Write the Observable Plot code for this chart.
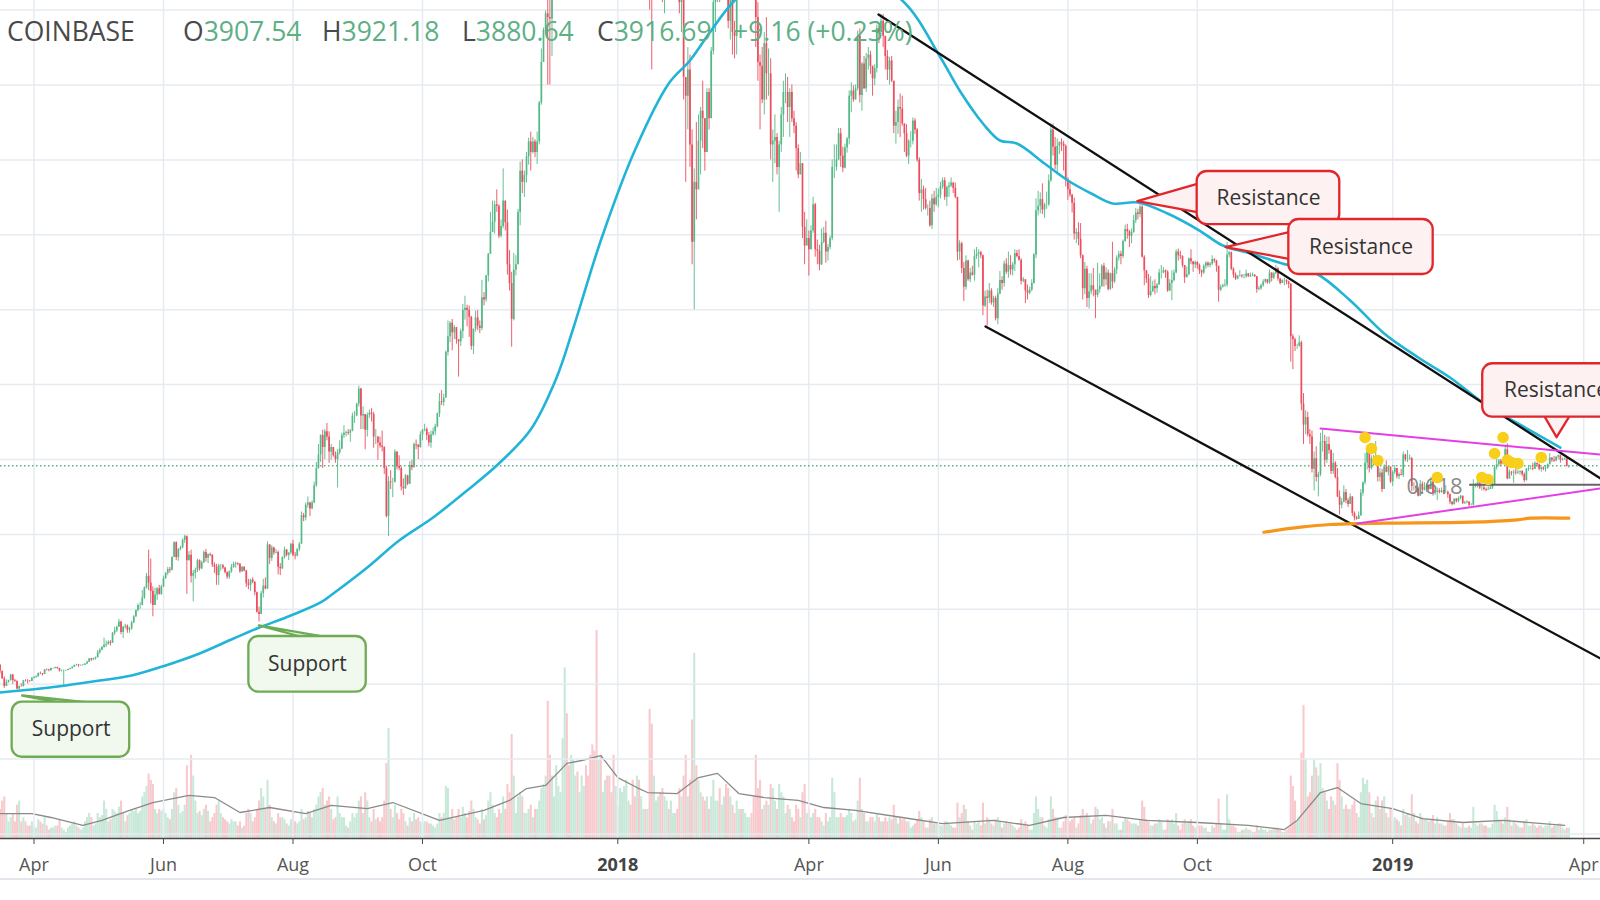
<!DOCTYPE html>
<html><head><meta charset="utf-8">
<script src="https://cdn.jsdelivr.net/npm/d3@7"></script>
<script src="https://cdn.jsdelivr.net/npm/@observablehq/plot@0.6"></script>
<style>
html,body{margin:0;padding:0;background:#fff;}
#wrap{position:relative;width:1600px;height:900px;overflow:hidden;font-family:"Open Sans",sans-serif;background:#fff;}
#wrap svg{position:absolute;left:0;top:0;}
#hdr{position:absolute;left:0;top:0;width:1600px;height:60px;font-size:26.5px;font-family:"Open Sans",sans-serif;}
#hdr span{position:absolute;top:13px;white-space:pre;line-height:36px;}
.lab{color:#4a4a4a}.val{color:#5daf85}
#foot{position:absolute;left:0;top:878px;width:1600px;height:2px;background:#e3e6ec}
</style></head><body><div id="wrap"></div>
<script>
// ---------- daily candles: [close, high, low, volume] (open = previous close) ----------
const firstOpen = 1253;
const p1703 = [[1172,1262,1140,14],[1071,1173,1066,18],[970,1098,945,20],[1022,1057,970,12],[1047,1053,1014,8],[1123,1130,1045,10],[1048,1130,1000,12],[1039,1065,1025,8],[937,1042,925,16],[968,975,890,18],[967,1005,960,8],[1045,1048,965,10],[1044,1060,1030,8],[1041,1060,1003,6],[1037,1049,1025,6],[1079,1087,1036,8]];
const p1704 = [[1089,1102,1072,6],[1098,1110,1080,5],[1143,1150,1096,9],[1141,1163,1125,8],[1130,1143,1110,7],[1192,1196,1128,10],[1190,1204,1176,6],[1180,1200,1165,4],[1208,1215,1175,5],[1211,1215,1199,5],
[1223,1227,1205,6],[1208,1226,1200,6],[1177,1211,1163,9],[1180,1189,1164,5],[1181,1190,960,4],[1183,1188,1171,3],[1196,1200,1178,5],[1208,1211,1190,6],[1226,1232,1200,7],[1250,1256,1224,8],
[1256,1267,1240,6],[1249,1264,1225,5],[1249,1258,1238,4],[1253,1262,1240,5],[1269,1275,1250,8],[1292,1308,1265,10],[1339,1341,1289,12],[1323,1345,1305,10],[1340,1348,1317,6],[1357,1361,1322,7]];
const p1705 = [[1421,1450,1348,12],[1452,1475,1400,10],[1490,1505,1445,11],[1520,1615,1480,18],[1531,1575,1490,14],[1560,1580,1520,8],[1547,1580,1510,9],[1680,1690,1545,14],[1710,1760,1650,13],[1760,1775,1690,12],
[1830,1865,1760,15],[1690,1840,1660,18],[1760,1770,1610,12],[1775,1800,1735,8],[1720,1790,1680,11],[1740,1760,1680,12],[1820,1840,1720,14],[1900,1915,1810,13],[1985,1990,1890,14],[2050,2070,1965,12],
[2050,2090,2000,13],[2150,2250,2050,20],[2285,2300,2130,22],[2440,2480,2270,25],[2350,2790,2250,31],[2240,2670,2070,28],[2050,2300,1900,26],[2190,2280,2050,14],[2275,2290,2120,12],[2200,2320,2190,14],
[2300,2320,2185,13]];
const p1706 = [[2410,2440,2290,14],[2480,2490,2400,12],[2530,2560,2450,10],[2520,2560,2480,9],[2690,2700,2510,14],[2890,2900,2690,22],[2690,2900,2650,24],[2800,2810,2640,16],[2820,2840,2780,12],[2920,2940,2810,13],
[2970,2990,2880,16],[2650,2980,2200,35],[2720,2770,2640,20],[2440,2790,2350,40],[2480,2520,2100,30],[2520,2550,2400,18],[2650,2670,2490,12],[2540,2660,2510,13],[2620,2640,2530,11],[2760,2780,2610,14],
[2680,2800,2630,16],[2730,2740,2610,13],[2720,2750,2700,8],[2590,2730,2560,10],[2560,2620,2480,12],[2450,2600,2320,16],[2580,2600,2320,18],[2580,2600,2510,12],[2550,2600,2530,10],[2490,2560,2470,9]];
const p1707 = [[2430,2500,2400,8],[2500,2510,2400,7],[2560,2600,2480,9],[2600,2630,2550,8],[2610,2630,2550,8],[2600,2620,2580,6],[2500,2610,2480,8],[2560,2570,2490,5],[2510,2570,2500,6],[2340,2520,2290,12],
[2320,2400,2260,14],[2390,2400,2240,12],[2360,2420,2340,8],[2220,2370,2180,10],[1960,2230,1950,14],[1930,2030,1830,18],[2210,2240,1930,24],[2310,2400,2150,20],[2270,2420,2260,14],[2860,2900,2270,28],
[2680,2860,2600,16],[2820,2850,2640,10],[2750,2830,2720,8],[2760,2800,2740,7],[2560,2780,2460,12],[2540,2610,2450,10],[2690,2700,2530,10],[2790,2830,2670,9],[2720,2800,2700,7],[2750,2760,2650,6],
[2870,2880,2730,9]];
const p1708 = [[2720,2920,2700,13],[2710,2760,2660,8],[2800,2810,2700,7],[2870,2890,2770,8],[3250,3300,2870,14],[3220,3280,3170,9],[3390,3420,3180,10],[3420,3500,3350,13],[3340,3430,3240,12],[3420,3450,3330,10],
[3650,3700,3410,14],[3880,3960,3630,16],[4060,4200,3870,20],[4320,4330,3960,22],[4160,4390,3880,24],[4370,4400,4000,16],[4300,4480,4250,18],[4100,4370,3950,20],[4160,4200,3990,14],[4050,4160,4030,9],
[4000,4100,3950,10],[4090,4130,3620,20],[4140,4250,4060,12],[4320,4350,4130,10],[4350,4450,4280,10],[4360,4380,4300,6],[4350,4400,4320,5],[4380,4400,4230,8],[4580,4620,4370,12],[4580,4640,4480,10],
[4740,4750,4570,12]];
const p1709 = [[4940,4980,4700,18],[4580,4950,4400,20],[4600,4700,4400,12],[4390,4600,4130,22],[4590,4620,4300,18],[4620,4660,4550,10],[4600,4680,4500,8],[4300,4630,4150,14],[4300,4400,4200,9],[4220,4300,3990,10],
[4180,4300,4150,8],[4160,4380,4100,10],[3880,4170,3800,18],[3240,3910,3220,36],[3700,3770,2970,53],[3690,3850,3600,14],[3690,3750,3490,10],[4100,4130,3700,16],[3910,4100,3860,12],[3880,4050,3850,9],
[3630,3900,3580,14],[3610,3740,3520,12],[3780,3800,3600,8],[3670,3790,3650,6],[3920,3970,3670,10],[3890,3990,3850,8],[4200,4220,3890,12],[4190,4260,4130,9],[4160,4200,4000,10],[4330,4370,4150,8]];
const p1710 = [[4390,4400,4250,7],[4400,4470,4370,8],[4320,4420,4250,8],[4220,4360,4170,7],[4330,4380,4150,7],[4370,4420,4310,6],[4440,4470,4320,5],[4610,4620,4420,7],[4770,4880,4560,12],[4760,4920,4720,10],
[4820,4870,4710,12],[5430,5450,4820,25],[5640,5850,5380,24],[5820,5840,5560,10],[5690,5870,5450,14],[5760,5790,5600,9],[5600,5760,5540,10],[5570,5600,5100,14],[5710,5740,5510,10],[5990,6070,5610,15],
[6020,6180,5860,12],[5990,6060,5770,10],[5900,6050,5630,13],[5510,5910,5460,18],[5740,5740,5400,14],[5890,5980,5700,10],[5780,5990,5720,9],[5750,5850,5680,7],[6160,6390,5720,14],[6130,6230,6050,9],
[6450,6460,6100,11]];
const p1711 = [[6740,6750,6370,18],[7030,7300,6740,22],[7170,7450,7030,16],[7400,7450,7010,12],[7380,7600,7300,10],[6980,7400,6950,14],[7110,7200,6960,12],[7450,7880,7080,20],[7160,7450,7050,14],[6600,7330,6460,26],
[6350,6790,6250,22],[5870,6500,5500,50],[6530,6750,5850,30],[6600,6720,6450,12],[7300,7340,6600,20],[7850,7970,7120,22],[7700,8000,7550,20],[7790,7850,7500,12],[8040,8100,7690,12],[8240,8290,7930,14],
[8100,8370,7850,16],[8240,8300,8080,10],[8100,8270,8030,14],[8240,8370,7940,14],[8760,8780,8200,18],[9300,9480,8730,24],[9730,9760,9300,26],[9950,9990,9680,30],[9900,11300,9000,66],[9880,10300,9000,40]];
const p1712 = [[10850,10960,9380,30],[10920,11150,10700,20],[11260,11800,10800,35],[11610,11620,10950,25],[11660,11900,11480,22],[13760,13800,11650,48],[16850,17170,13740,82],[16050,19000,13900,60],[14700,16300,13800,35],[15200,15800,13000,40],
[16800,17500,15100,38],[17300,17500,16600,30],[16400,17300,15900,32],[16600,16900,16000,22],[17600,17900,16600,30],[19200,19300,17500,25],[19100,19900,18750,35],[18900,19200,17800,30],[17700,19000,16500,40],[16500,17900,15600,45],
[15600,17300,14800,42],[13800,15800,10400,100],[14600,15800,13600,38],[14000,14600,12500,40],[14000,14500,13400,22],[16100,16300,13800,28],[15800,16500,14900,30],[14700,15800,13900,30],[14600,15400,14200,22],[12900,14700,12400,40],
[14000,14200,12700,25]];
const p1801 = [[13500,14000,12750,15],[14800,15400,12900,24],[15100,15500,14600,22],[15200,15400,14000,25],[17000,17100,14800,28],[17100,17250,16300,18],[16200,17100,15800,16],[14950,16300,13400,28],[14400,15400,14000,20],[14900,14950,13200,30],
[13300,14900,12700,28],[13800,14100,12850,20],[14200,14500,13800,14],[13600,14400,13000,14],[13600,14300,13400,14],[11400,13600,10000,62],[11200,11700,9200,55],[11250,12000,10700,30],[11500,11800,10950,18],[12800,13000,11400,20],
[11500,12800,11100,22],[10800,11900,10100,24],[10900,11400,9950,20],[11300,11400,10550,18],[11100,11700,10900,14],[11100,11600,10300,18],[11500,11650,10900,12],[11800,12150,11500,12],[11200,11850,11050,14],[10100,11300,9950,24],
[10200,10400,9700,20]];
const p1802 = [[9100,10200,8800,30],[8850,9100,7700,40],[9200,9500,8400,20],[8200,9400,7900,28],[6900,8400,6600,57],[7700,7880,6000,89],[7600,8500,7200,35],[8250,8600,7600,28],[8650,8700,7800,22],[8550,9050,8150,20],
[8100,8550,7850,18],[8900,8950,8100,20],[8550,8950,8400,14],[9450,9500,8550,20],[10100,10250,9400,28],[10200,10300,9700,18],[11100,11200,10100,18],[10400,11200,10100,24],[11150,11250,10300,16],[11200,11800,11100,20],
[10450,11300,10200,26],[9850,10900,9750,24],[10150,10400,9600,20],[9700,10500,9400,16],[9650,9850,9350,12],[10300,10450,9400,18],[10600,10900,10200,14],[10300,11100,10300,14]];
const p1803 = [[10900,10950,10250,14],[11000,11150,10800,12],[11450,11500,11000,10],[11500,11520,11100,10],[11450,11700,11400,12],[10700,11450,10600,20],[9900,10900,9500,40],[9300,10100,9050,24],[9250,9400,8400,28],[8800,9500,8750,14],
[9550,9700,8600,16],[9150,9900,8800,18],[9150,9480,8850,16],[8200,9350,8000,26],[8250,8400,7700,24],[8300,8600,7950,18],[7900,8350,7800,14],[8200,8250,7300,26],[8600,8700,8100,22],[8900,9050,8300,20],
[8900,9150,8750,12],[8700,9100,8500,16],[8900,8950,8300,14],[8550,9000,8500,10],[8450,8650,8350,8],[8150,8500,7850,16],[7800,8200,7750,14],[7950,8100,7800,10],[7100,7950,6950,22],[6850,7300,6600,26],
[6950,7200,6850,12]];
const p1804 = [[6800,7050,6450,14],[7050,7120,6800,10],[7400,7500,7020,12],[6800,7420,6700,14],[6780,6930,6600,10],[6600,6860,6520,10],[6900,7080,6590,8],[7020,7100,6880,6],[6770,7180,6620,12],[6830,6870,6650,8],
[6950,6980,6800,10],[7900,8000,6920,29],[7900,8200,7750,22],[8000,8200,7850,10],[8350,8420,7990,10],[8050,8420,7900,12],[7890,8170,7830,10],[8160,8210,7880,10],[8280,8300,8090,11],[8850,8920,8200,14],
[8920,9030,8630,12],[8800,8990,8770,8],[8950,9000,8800,9],[9650,9720,8920,18],[8860,9750,8760,29],[9280,9300,8650,14],[8950,9380,8940,12],[9350,9420,8900,8],[9400,9500,9200,8],[9250,9450,9140,10]];
const p1805 = [[9080,9250,8850,10],[9220,9270,8990,8],[9750,9800,9160,12],[9700,9780,9550,10],[9850,9940,9680,8],[9650,9940,9500,8],[9380,9650,9200,10],[9200,9460,9060,8],[9320,9370,9000,10],[9050,9380,9030,9],
[8450,9050,8350,16],[8500,8650,8210,10],[8700,8800,8340,7],[8680,8880,8300,10],[8480,8850,8450,9],[8350,8480,8100,9],[8050,8470,8030,8],[8250,8270,7940,8],[8250,8380,8160,5],[8520,8560,8200,6],
[8400,8550,8340,7],[8000,8420,7970,9],[7550,8030,7450,13],[7600,7740,7300,10],[7470,7650,7330,8],[7350,7620,7330,5],[7350,7400,7250,5],[7120,7450,7100,9],[7480,7540,7070,10],[7400,7580,7300,7],
[7500,7620,7380,7]];
const p1806 = [[7530,7610,7360,7],[7640,7700,7480,6],[7720,7760,7610,6],[7500,7760,7460,8],[7630,7650,7380,8],[7650,7700,7500,7],[7690,7760,7630,6],[7620,7700,7550,5],[7500,7690,7480,5],[6770,7500,6650,17],
[6880,6920,6660,10],[6550,6900,6480,12],[6300,6630,6110,16],[6650,6720,6260,14],[6400,6660,6380,8],[6490,6550,6360,6],[6460,6580,6450,4],[6710,6800,6380,8],[6740,6830,6670,7],[6760,6800,6560,8],
[6720,6780,6680,6],[6050,6730,5920,17],[6170,6250,6030,7],[6150,6260,5780,10],[6250,6350,6080,9],[6090,6280,6060,7],[6150,6180,6030,6],[5880,6180,5850,9],[6210,6280,5800,10],[6390,6510,6200,8]];
const p1807 = [[6350,6440,6260,5],[6610,6650,6300,7],[6500,6680,6470,8],[6590,6770,6420,7],[6530,6720,6460,7],[6600,6630,6450,6],[6750,6800,6510,5],[6710,6790,6690,4],[6660,6800,6650,5],[6380,6680,6330,9],
[6400,6430,6360,6],[6250,6400,6080,8],[6220,6330,6130,6],[6260,6300,6200,4],[6350,6400,6240,4],[6730,6750,6340,12],[7320,7480,6680,20],[7380,7580,7250,14],[7470,7560,7280,10],[7330,7680,7270,10],
[7400,7420,7220,6],[7400,7570,7340,5],[7720,7800,7380,9],[8400,8480,7700,20],[8170,8480,8050,14],[7930,8300,7870,10],[8180,8280,7800,10],[8230,8240,8070,5],[8210,8280,8110,5],[8180,8250,7850,8],
[7730,8200,7640,11]];
const p1808 = [[7600,7760,7460,9],[7530,7700,7500,8],[7420,7540,7290,9],[7010,7490,6930,10],[7030,7080,6880,5],[6940,7160,6850,7],[6720,7150,6680,11],[6280,6730,6130,14],[6540,6630,6200,11],[6150,6580,6030,12],
[6240,6480,6010,10],[6320,6480,6200,7],[6260,6550,6170,9],[6190,6260,5880,15],[6270,6620,6160,14],[6310,6480,6220,9],[6580,6600,6300,10],[6400,6620,6300,7],[6490,6560,6320,5],[6270,6530,6250,8],
[6480,6490,6260,8],[6370,6900,6280,14],[6530,6560,6350,7],[6690,6720,6470,7],[6740,6780,6650,4],[6710,6780,6600,4],[6910,6930,6680,8],[7070,7130,6900,10],[7040,7140,6940,9],[6980,7060,6830,8],
[7030,7080,6880,7]];
const p1809 = [[7190,7260,7020,7],[7290,7350,7150,7],[7270,7340,7200,6],[7370,7400,7230,9],[6700,7390,6690,18],[6520,6720,6320,15],[6410,6520,6350,9],[6190,6470,6150,8],[6240,6440,6170,6],[6310,6380,6230,6],
[6280,6400,6200,7],[6330,6350,6220,7],[6490,6540,6330,9],[6490,6590,6410,8],[6520,6560,6480,4],[6500,6530,6420,4],[6250,6520,6230,9],[6350,6400,6240,8],[6390,6520,6120,9],[6490,6530,6370,7],
[6770,6800,6480,12],[6720,6810,6650,6],[6710,6780,6670,4],[6590,6720,6560,7],[6430,6590,6350,9],[6470,6570,6420,7],[6680,6690,6450,8],[6640,6800,6600,9],[6600,6640,6500,6],[6630,6650,6550,5]];
const p1810 = [[6590,6640,6540,6],[6520,6610,6470,6],[6490,6530,6430,6],[6580,6600,6470,5],[6620,6640,6540,5],[6590,6640,6560,3],[6610,6630,6560,3],[6670,6720,6590,6],[6650,6680,6620,5],[6580,6660,6500,7],
[6260,6580,6100,19],[6300,6330,6240,7],[6320,6340,6290,4],[6330,6400,6300,4],[6730,6900,6300,21],[6760,6780,6690,9],[6540,6770,6520,6],[6460,6560,6420,6],[6410,6490,6390,5],[6440,6460,6400,3],
[6450,6520,6440,3],[6440,6470,6420,4],[6440,6470,6410,4],[6480,6530,6420,5],[6440,6480,6430,4],[6450,6490,6430,4],[6460,6490,6440,3],[6440,6470,6430,3],[6270,6440,6220,6],[6280,6310,6250,4],
[6320,6340,6260,5]];
const p1811 = [[6370,6400,6300,4],[6400,6410,6350,4],[6360,6400,6340,3],[6490,6530,6340,4],[6420,6490,6370,4],[6480,6500,6400,5],[6550,6590,6470,5],[6410,6560,6380,5],[6350,6420,6330,4],[6390,6400,6350,3],
[6390,6420,6320,3],[6370,6400,6330,4],[6340,6380,6280,5],[5640,6350,5300,30],[5600,5670,5200,25],[5510,5620,5440,18],[5510,5540,5470,8],[5560,5650,5500,10],[4740,5580,4650,41],[4460,4880,4200,64],
[4560,4650,4330,38],[4330,4630,4300,20],[4300,4400,4200,22],[3870,4380,3820,30],[4010,4100,3580,38],[3760,4170,3700,34],[3800,3830,3500,30],[4230,4350,3770,36],[4240,4400,4100,24],[3990,4320,3900,22]];
const p1812 = [[4200,4300,3950,18],[4120,4300,4070,14],[3840,4130,3800,20],[3950,4080,3800,18],[3760,3970,3740,16],[3500,3880,3490,36],[3390,3580,3260,28],[3430,3480,3340,20],[3560,3650,3420,14],[3450,3600,3410,16],
[3400,3480,3360,14],[3500,3540,3400,14],[3280,3500,3240,16],[3220,3300,3180,18],[3200,3240,3190,12],[3250,3300,3200,10],[3550,3600,3240,22],[3690,3700,3510,29],[3950,4080,3660,26],[4140,4180,3860,28],
[3880,4200,3820,22],[4010,4050,3860,12],[3960,4050,3920,10],[4040,4240,3960,18],[3760,4030,3700,20],[3820,3880,3700,14],[3600,3870,3560,18],[3900,3930,3600,20],[3830,3980,3820,12],[3900,3920,3780,10],
[3700,3900,3680,14]];
const p1901 = [[3830,3850,3640,8],[3880,3920,3800,10],[3770,3880,3740,9],[3800,3820,3730,8],[3790,3870,3780,6],[4060,4100,3760,14],[4000,4070,3970,11],[4000,4120,3960,12],[4010,4060,3990,10],[3640,4030,3570,21],
[3640,3690,3580,12],[3610,3650,3560,8],[3510,3630,3500,7],[3670,3720,3510,12],[3590,3700,3570,10],[3620,3690,3580,9],[3650,3670,3560,9],[3600,3660,3580,8],[3700,3760,3600,9],[3550,3720,3510,11],
[3560,3580,3520,7],[3580,3620,3450,10],[3560,3610,3540,7],[3580,3620,3550,7],[3560,3590,3530,6],[3560,3650,3550,6],[3530,3580,3480,8],[3430,3540,3400,12],[3400,3440,3380,9],[3470,3480,3390,9],
[3440,3480,3420,7]];
const p1902 = [[3480,3500,3420,6],[3510,3520,3460,5],[3410,3510,3400,7],[3420,3440,3400,5],[3430,3450,3410,5],[3390,3440,3370,6],[3390,3410,3380,5],[3640,3730,3380,15],[3650,3680,3620,7],[3690,3700,3620,6],
[3620,3690,3600,7],[3620,3650,3580,7],[3600,3660,3580,6],[3590,3620,3570,6],[3600,3640,3590,5],[3620,3650,3600,5],[3660,3690,3600,7],[3890,3920,3650,16],[3930,4000,3860,13],[3980,4000,3900,9],
[3940,4000,3910,8],[3990,4000,3930,7],[4130,4180,3980,10],[3740,4210,3730,15],[3830,3860,3740,9],[3820,3840,3780,6],[3830,3860,3680,8],[3820,3900,3790,7]];
const p1903 = [[3830,3860,3800,6],[3840,3850,3790,5],[3800,3850,3770,5],[3720,3820,3690,8],[3870,3880,3710,9],[3880,3910,3840,6],[3880,3920,3860,6],[3870,3950,3850,7],[3950,3970,3870,6],[3930,3950,3900,5],
[3870,3940,3850,6],[3890,3900,3830,6],[3870,3900,3850,5],[3880,3920,3830,6],[3930,3940,3870,6],[4020,4080,3930,8],[3990,4020,3960,5],[3980,4040,3960,6],[4030,4040,3970,6],[4050,4060,4000,7],
[3990,4060,3950,7],[4000,4020,3980,5],[4010,4020,3990,4],[3907.54,4010,3900,5],[3916.69,3921.18,3880.64,5]];

const monthStarts = ["2017-03-16","2017-04-01","2017-05-01","2017-06-01","2017-07-01","2017-08-01","2017-09-01","2017-10-01","2017-11-01","2017-12-01",
"2018-01-01","2018-02-01","2018-03-01","2018-04-01","2018-05-01","2018-06-01","2018-07-01","2018-08-01","2018-09-01","2018-10-01","2018-11-01","2018-12-01",
"2019-01-01","2019-02-01","2019-03-01"];
const monthRows = [p1703,p1704,p1705,p1706,p1707,p1708,p1709,p1710,p1711,p1712,p1801,p1802,p1803,p1804,p1805,p1806,p1807,p1808,p1809,p1810,p1811,p1812,p1901,p1902,p1903];

// ---------- moving average (cyan) ----------
const maDates = ["2017-03-16","2017-03-31","2017-04-16","2017-05-02","2017-05-17","2017-06-02","2017-06-18","2017-07-04","2017-07-15","2017-07-31","2017-08-14","2017-08-20","2017-09-05","2017-09-20","2017-10-06","2017-10-22","2017-11-06","2017-11-21","2017-12-03","2017-12-11","2017-12-24",
"2018-01-09","2018-01-25","2018-02-04","2018-02-13","2018-02-25","2018-03-20","2018-04-15","2018-05-15","2018-06-02","2018-06-11","2018-06-22","2018-06-30","2018-07-08","2018-07-21","2018-08-01","2018-08-12","2018-08-22","2018-09-03","2018-09-17","2018-10-02","2018-10-13","2018-10-26","2018-11-10","2018-11-26","2018-12-12","2018-12-28",
"2019-01-13","2019-01-28","2019-02-13","2019-03-01","2019-03-21"];
const maValues = [889,929,983,1049,1116,1250,1410,1610,1744,1917,2091,2211,2558,2919,3226,3586,3947,4400,5081,5749,6924,
8125,9020,9327,9688,10128,10650,10600,10128,9367,8927,8486,8259,8219,7952,7725,7551,7418,7431,7284,7057,6857,6750,6617,6483,6123,5682,
5362,5095,4748,4481,4160];

// ---------- volume moving average (grey) ----------
const vmaDates = ["2017-03-16","2017-03-31","2017-04-09","2017-04-24","2017-05-03","2017-05-16","2017-05-27","2017-06-13","2017-06-25","2017-07-07","2017-07-21","2017-08-07","2017-08-19","2017-09-05","2017-09-17","2017-10-09","2017-10-30","2017-11-11","2017-11-19","2017-11-28","2017-12-08","2017-12-15","2017-12-24",
"2018-01-01","2018-01-10","2018-01-15","2018-01-29","2018-02-08","2018-02-17","2018-02-27","2018-03-11","2018-03-27","2018-04-08","2018-04-23","2018-05-15","2018-06-03","2018-06-27","2018-07-14","2018-07-30","2018-08-19","2018-09-07","2018-10-01","2018-10-25","2018-11-11","2018-11-17","2018-11-28","2018-12-06","2018-12-17",
"2019-01-01","2019-01-15","2019-02-03","2019-02-22","2019-03-23"];
const vmaValues = [12,12,10.1,6.3,8.7,13.5,17.3,20.7,19.7,12.5,14.9,12,15.9,14.4,17.3,8.7,13.5,18.3,24,25.5,36.1,37.5,39.9,
29.3,24.5,22.1,21.6,29.3,31.3,21.6,19.7,18.3,14.9,13.5,10.1,7.2,8.7,6.3,10.1,11.1,8.7,7.7,6.3,4.3,8.7,22.1,24.5,16.8,
14.4,9.6,7.7,8.7,6.3];

// ---------- drawings ----------
const lastClose = 3916.69;
const upperTrend = [["2018-05-03T19:00Z",9941],["2019-04-08T22:00Z",3746]];
const lowerTrend = [["2018-06-23T05:00Z",5776],["2019-04-08T22:00Z",1343]];
const magentaUpper = [["2018-11-28T00:00Z",4414],["2019-04-08T22:00Z",4065]];
const magentaLower = [["2018-12-15T10:00Z",3146],["2019-04-08T22:00Z",3613]];
const orangeSupport = [["2018-11-01T07:00Z",3029],["2018-11-18T14:00Z",3096],["2018-12-02T17:00Z",3132],["2018-12-27T19:00Z",3150],["2019-02-06T12:00Z",3163],["2019-02-28T17:00Z",3195],["2019-03-06T22:00Z",3216],["2019-03-25T00:00Z",3216]];
const fibLevel = [["2019-02-06T10:00Z",3662],["2019-04-08T22:00Z",3662]];
const fibLabel = [["2019-02-02T22:00Z",3640,"0.618"]];
const yellowDots = [["2018-12-19",4294],["2018-12-22",4147],["2018-12-25",3987],["2019-01-22",3760],["2019-02-12",3760],["2019-02-15",3733],["2019-02-18",4080],["2019-02-22",4294],["2019-02-24",3993],["2019-02-26",3960],["2019-03-01",3947],["2019-03-12",4027]];
// callouts: [x1, x2, priceLow, priceHigh]
const supportBoxes = [["2017-03-21T17:00Z","2017-05-16T02:00Z",25,760],["2017-07-11T05:00Z","2017-09-04T12:00Z",893,1637]];
const supportLabels = [["2017-04-18T12:00Z",395,"Support"],["2017-08-07T19:00Z",1263,"Support"]];
const supportTails = [[["2017-04-12T00:00Z",760],["2017-03-26T10:00Z",849],["2017-04-25T07:00Z",760]],
                      [["2017-08-04T12:00Z",1637],["2017-07-15T22:00Z",1784],["2017-08-14T19:00Z",1637]]];
const resistBoxes = [["2018-09-30T22:00Z","2018-12-07T02:00Z",7137,7845],["2018-11-13T02:00Z","2019-01-20T02:00Z",6470,7204],["2019-02-12T10:00Z","2019-04-23T00:00Z",4565,5278]];
const resistLabels = [["2018-11-03T12:00Z",7491,"Resistance"],["2018-12-17T02:00Z",6837,"Resistance"],["2019-03-18T22:00Z",4921,"Resistance"]];
const resistTails = [[["2018-09-30T22:00Z",7681],["2018-09-02T17:00Z",7449],["2018-09-30T22:00Z",7302]],
                     [["2018-11-13T02:00Z",7035],["2018-10-14T07:00Z",6834],["2018-11-13T02:00Z",6680]],
                     [["2019-03-13T17:00Z",4565],["2019-03-19T05:00Z",4298],["2019-03-25T00:00Z",4565]]];

// ---------- axis ----------
const tickDates = ["2017-04-01","2017-06-01","2017-08-01","2017-10-01","2018-01-01","2018-04-01","2018-06-01","2018-08-01","2018-10-01","2019-01-01","2019-04-01"];
const tickLabels = ["Apr","Jun","Aug","Oct","2018","Apr","Jun","Aug","Oct","2019","Apr"];
const priceGrid = [-1000,0,1000,2000,3000,4000,5000,6000,7000,8000,9000,10000];

// ---------- header ----------
const exchange = "COINBASE";
const quoteLabels = ["O","H","L","C"];
const quoteValues = ["3907.54","3921.18","3880.64","3916.69"];
const quoteChange = "+9.16 (+0.23%)";

// ================= build =================
const UP = "#53b987", DOWN = "#eb4d5c", VUP = "#c8e8d9", VDOWN = "#f8cace";
const rows = [];
let prev = firstOpen;
monthStarts.forEach((s, m) => {
  const t0 = new Date(s + "T00:00:00Z").getTime();
  monthRows[m].forEach(([c, h, l, v], i) => {
    rows.push({date: new Date(t0 + i * 864e5), open: prev, close: c, high: h, low: l, vol: v, up: c >= prev});
    prev = c;
  });
});
const P = a => a.map(([d, p, t]) => ({date: new Date(d), price: p, text: t}));
const ma = maDates.map((d, i) => ({date: new Date(d), price: maValues[i]}));
const vma = vmaDates.map((d, i) => ({date: new Date(d), v: vmaValues[i]}));
const ticks = tickDates.map((d, i) => ({date: new Date(d), label: tickLabels[i], year: /^\d{4}$/.test(tickLabels[i])}));
const tailRows = (arr) => arr.flatMap((t, k) => t.map(([d, p]) => ({date: new Date(d), price: p, id: k})));
const boxRows = a => a.map(([x1, x2, y1, y2]) => ({x1: new Date(x1), x2: new Date(x2), y1, y2}));

const xDomain = [new Date("2017-03-16T05:17:00Z"), new Date("2019-04-08T21:36:00Z")];
const W = 1600, H = 900, MB = 62;
const wrap = document.getElementById("wrap");

// volume layer (bottom)
const vol = Plot.plot({
  width: W, height: H, marginTop: 630, marginBottom: MB, marginLeft: 0, marginRight: 0,
  style: {background: "#fff"},
  x: {type: "utc", domain: xDomain, axis: null},
  y: {domain: [0, 100], axis: null},
  color: {type: "identity"},
  marks: [
    Plot.ruleX(rows, {x: "date", y1: 0, y2: "vol", stroke: d => d.up ? VUP : VDOWN, strokeWidth: 2.1}),
    Plot.line(vma, {x: "date", y: "v", stroke: "#8a8a8a", strokeWidth: 1.3})
  ]
});
wrap.appendChild(vol);

const monthTicks = ticks.filter(t => !t.year), yearTicks = ticks.filter(t => t.year);
const labelOf = d => (ticks.find(t => +t.date === +d) || {}).label;

const price = Plot.plot({
  width: W, height: H, marginTop: 0, marginBottom: MB, marginLeft: 0, marginRight: 0,
  style: {background: "transparent", fontFamily: "Open Sans, sans-serif"},
  x: {type: "utc", domain: xDomain},
  y: {domain: [-1060, 10128], axis: null},
  color: {type: "identity"},
  marks: [
    Plot.gridX({ticks: ticks.map(t => t.date), stroke: "#e6ebf2", strokeOpacity: 1, strokeWidth: 1.5}),
    Plot.gridY({ticks: priceGrid, stroke: "#e6ebf2", strokeOpacity: 1, strokeWidth: 1.5}),
    Plot.ruleY([lastClose], {stroke: "#5daf85", strokeWidth: 1.3, strokeDasharray: "1.5,2.5"}),
    // candles
    Plot.ruleX(rows, {x: "date", y1: "low", y2: "high", stroke: d => d.up ? UP : DOWN, strokeWidth: 0.9, clip: true}),
    Plot.ruleX(rows, {x: "date", y1: "open", y2: "close", stroke: d => d.up ? UP : DOWN, strokeWidth: 1.7, clip: true}),
    // moving average
    Plot.line(ma, {x: "date", y: "price", stroke: "#22b4d6", strokeWidth: 2.6, curve: "catmull-rom", clip: true}),
    // trend lines
    Plot.line(P(upperTrend), {x: "date", y: "price", stroke: "#111", strokeWidth: 2.3, clip: true}),
    Plot.line(P(lowerTrend), {x: "date", y: "price", stroke: "#111", strokeWidth: 2.3, clip: true}),
    Plot.line(P(orangeSupport), {x: "date", y: "price", stroke: "#f6961c", strokeWidth: 3.2, curve: "catmull-rom", clip: true}),
    Plot.line(P(magentaUpper), {x: "date", y: "price", stroke: "#e43fe3", strokeWidth: 2, clip: true}),
    Plot.line(P(magentaLower), {x: "date", y: "price", stroke: "#e43fe3", strokeWidth: 2, clip: true}),
    Plot.line(P(fibLevel), {x: "date", y: "price", stroke: "#666", strokeWidth: 2, clip: true}),
    Plot.text(P(fibLabel), {x: "date", y: "price", text: "text", textAnchor: "end", fontSize: 22, fill: "#7a7a7a", fillOpacity: 0.9}),
    Plot.dot(P(yellowDots), {x: "date", y: "price", r: 5.8, fill: "#f8cf1a", stroke: "none", clip: true}),
    // callouts
    Plot.line(tailRows(supportTails), {x: "date", y: "price", z: "id", fill: "#f1f8ed", stroke: "#6eab55", strokeWidth: 2.3}),
    Plot.rect(boxRows(supportBoxes), {x1: "x1", x2: "x2", y1: "y1", y2: "y2", rx: 10, fill: "#f1f8ed", stroke: "#6eab55", strokeWidth: 2.3}),
    Plot.text(P(supportLabels), {x: "date", y: "price", text: "text", fontSize: 21, fill: "#333"}),
    Plot.line(tailRows(resistTails), {x: "date", y: "price", z: "id", fill: "#fdf1f1", stroke: "#e1262c", strokeWidth: 2.3, clip: true}),
    Plot.rect(boxRows(resistBoxes), {x1: "x1", x2: "x2", y1: "y1", y2: "y2", rx: 10, fill: "#fdf1f1", stroke: "#e1262c", strokeWidth: 2.3, clip: true}),
    Plot.text(P(resistLabels), {x: "date", y: "price", text: "text", fontSize: 21, fill: "#333", clip: true}),
    // axis
    Plot.ruleY([-1060], {stroke: "#4a4a4a", strokeWidth: 1.5}),
    Plot.axisX({ticks: monthTicks.map(t => t.date), tickFormat: labelOf, tickSize: 6, tickPadding: 14, fontSize: 18, stroke: "#4a4a4a", fill: "#555", label: null}),
    Plot.axisX({ticks: yearTicks.map(t => t.date), tickFormat: labelOf, tickSize: 6, tickPadding: 14, fontSize: 18, fontWeight: "bold", stroke: "#4a4a4a", fill: "#444", label: null})
  ]
});
wrap.appendChild(price);

// header overlay
const hdr = document.createElement("div");
hdr.id = "hdr";
const hdrLeft = [183, 322, 462, 597];
let html = `<span class="lab" style="left:7px">${exchange}</span>`;
quoteLabels.forEach((l, i) => { html += `<span style="left:${hdrLeft[i]}px"><span class="lab" style="position:static">${l}</span><span class="val" style="position:static">${quoteValues[i]}</span></span>`; });
html += `<span class="val" style="left:733px">${quoteChange}</span>`;
hdr.innerHTML = html;
wrap.appendChild(hdr);
const foot = document.createElement("div"); foot.id = "foot"; wrap.appendChild(foot);
console.log("rows", rows.length);
</script></body></html>
